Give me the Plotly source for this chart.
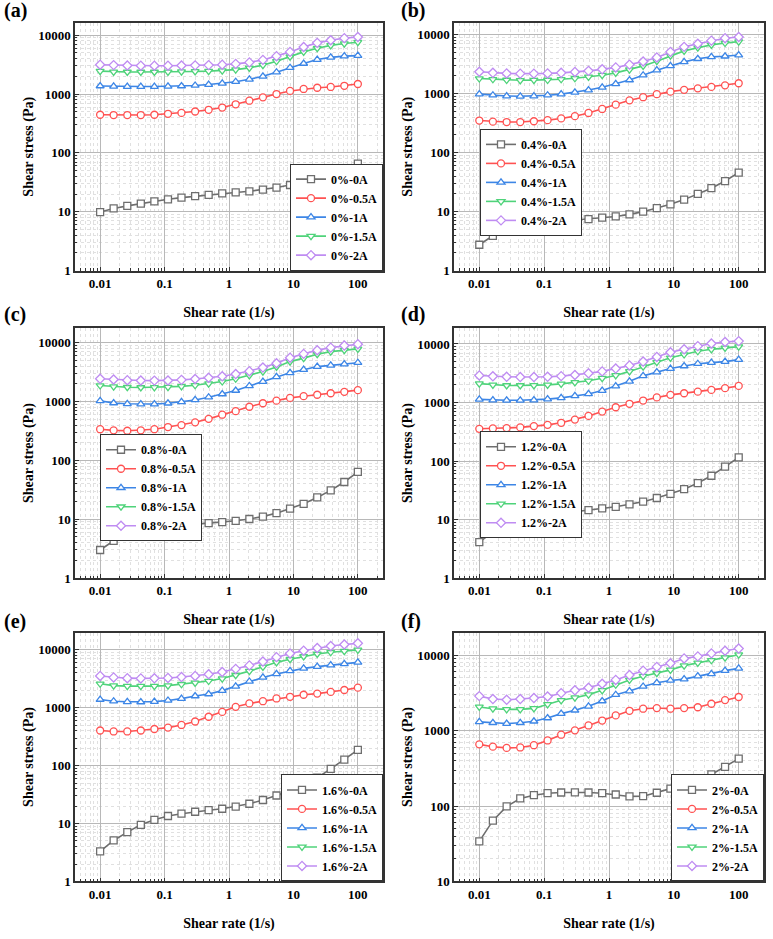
import plotly.graph_objects as go

# ---------------- data ----------------
shear_rate = [0.01, 0.0162, 0.0264, 0.0428, 0.0695, 0.113, 0.183, 0.298, 0.483, 0.785,
              1.27, 2.07, 3.36, 5.46, 8.86, 14.4, 23.4, 37.9, 61.6, 100]

currents = ["0A", "0.5A", "1A", "1.5A", "2A"]
concentrations = ["0%", "0.4%", "0.8%", "1.2%", "1.6%", "2%"]
panel_tags = ["(a)", "(b)", "(c)", "(d)", "(e)", "(f)"]

x_tick_vals = [0.01, 0.1, 1, 10, 100]
x_tick_text = ["0.01", "0.1", "1", "10", "100"]
y_tick_vals = [1, 10, 100, 1000, 10000]
y_tick_text = ["1", "10", "100", "1000", "10000"]

# (a) 0 %
a_0A = [9.9, 11.4, 12.6, 13.8, 15.0, 16.3, 17.4, 18.4, 19.4, 20.5, 21.3, 22.3, 23.8, 25.8, 28.5, 32.5, 38, 45, 54, 66]
a_05A = [445, 440, 440, 440, 445, 462, 478, 505, 540, 590, 670, 770, 880, 1000, 1130, 1220, 1280, 1320, 1380, 1480]
a_1A = [1370, 1350, 1340, 1340, 1340, 1350, 1370, 1400, 1450, 1520, 1620, 1780, 2000, 2350, 2800, 3300, 3850, 4200, 4400, 4500]
a_15A = [2450, 2380, 2370, 2370, 2370, 2380, 2400, 2420, 2450, 2500, 2600, 2780, 3100, 3600, 4300, 5200, 6000, 6700, 7200, 7600]
a_2A = [3150, 3100, 3050, 3030, 3030, 3030, 3050, 3070, 3100, 3150, 3250, 3450, 3800, 4400, 5200, 6300, 7400, 8200, 8900, 9300]

# (b) 0.4 %
b_0A = [2.75, 3.9, 4.6, 5.3, 5.8, 6.3, 6.8, 7.2, 7.5, 7.9, 8.3, 9.0, 10, 11.5, 13.3, 16, 20, 25, 33, 46]
b_05A = [350, 335, 330, 330, 340, 355, 380, 415, 470, 550, 650, 770, 870, 980, 1080, 1160, 1230, 1300, 1380, 1500]
b_1A = [980, 940, 910, 900, 910, 940, 980, 1050, 1150, 1280, 1460, 1700, 2050, 2500, 2950, 3450, 3900, 4200, 4300, 4500]
b_15A = [1800, 1750, 1700, 1680, 1690, 1700, 1750, 1820, 1920, 2050, 2250, 2550, 2950, 3550, 4400, 5300, 6000, 6700, 7200, 7600]
b_2A = [2350, 2250, 2200, 2180, 2180, 2200, 2250, 2330, 2430, 2580, 2780, 3100, 3500, 4100, 5100, 6200, 7000, 7900, 8700, 9100]

# (c) 0.8 %
c_0A = [3.0, 4.3, 5.3, 6.0, 6.6, 7.2, 7.8, 8.3, 8.6, 8.9, 9.4, 10.1, 11.1, 12.7, 15.2, 18.3, 23.5, 31, 43, 64]
c_05A = [340, 325, 320, 325, 340, 370, 400, 445, 510, 600, 690, 820, 940, 1040, 1160, 1240, 1310, 1390, 1470, 1570]
c_1A = [1030, 950, 920, 910, 910, 940, 990, 1070, 1190, 1350, 1550, 1850, 2200, 2650, 3100, 3500, 3950, 4150, 4350, 4600]
c_15A = [1880, 1800, 1760, 1740, 1750, 1770, 1820, 1900, 2030, 2200, 2450, 2800, 3250, 3900, 4800, 5500, 6400, 7100, 7500, 7900]
c_2A = [2450, 2380, 2320, 2290, 2280, 2290, 2350, 2430, 2550, 2700, 2950, 3300, 3800, 4500, 5600, 6500, 7500, 8300, 9000, 9500]

# (d) 1.2 %
d_0A = [4.1, 6.1, 8.0, 9.6, 10.8, 11.9, 12.8, 13.6, 14.5, 15.5, 16.5, 18.2, 20.2, 23.3, 27.5, 33, 42, 56, 80, 115]
d_05A = [355, 360, 365, 375, 395, 415, 450, 510, 590, 700, 830, 950, 1080, 1220, 1350, 1440, 1530, 1640, 1760, 1920]
d_1A = [1130, 1100, 1090, 1090, 1100, 1140, 1200, 1300, 1400, 1600, 1900, 2300, 2850, 3300, 3800, 4200, 4600, 4800, 5000, 5400]
d_15A = [2100, 2000, 1950, 1950, 1960, 2000, 2080, 2200, 2350, 2600, 2900, 3400, 4100, 4900, 5800, 6600, 7500, 8100, 8600, 9000]
d_2A = [2900, 2800, 2750, 2720, 2720, 2750, 2820, 2950, 3150, 3400, 3800, 4300, 5000, 6000, 7200, 8100, 9200, 10200, 10800, 11200]

# (e) 1.6 %
e_0A = [3.3, 5.1, 7.1, 9.5, 11.6, 13.5, 14.8, 16, 17, 18, 19.6, 22, 25.5, 30.5, 37, 47, 62, 88, 127, 188]
e_05A = [405, 390, 390, 405, 430, 455, 505, 580, 700, 850, 1040, 1190, 1300, 1450, 1550, 1680, 1760, 1880, 2030, 2230]
e_1A = [1390, 1300, 1270, 1260, 1280, 1340, 1440, 1600, 1730, 1980, 2350, 2850, 3350, 3850, 4350, 4800, 5150, 5450, 5750, 6100]
e_15A = [2600, 2420, 2370, 2360, 2370, 2420, 2550, 2700, 2900, 3200, 3650, 4300, 5100, 6100, 6900, 7700, 8500, 9100, 9500, 10000]
e_2A = [3550, 3350, 3250, 3220, 3230, 3280, 3400, 3550, 3800, 4150, 4700, 5400, 6300, 7500, 8700, 9700, 10800, 11700, 12400, 13000]

# (f) 2 %
f_0A = [34, 64, 99, 126, 139, 148, 151, 152, 151, 148, 142, 134, 135, 150, 170, 158, 213, 262, 330, 425]
f_05A = [657, 612, 590, 598, 640, 740, 882, 1008, 1170, 1360, 1590, 1830, 1950, 1990, 1950, 1990, 2040, 2270, 2540, 2790]
f_1A = [1305, 1270, 1240, 1270, 1330, 1470, 1680, 1860, 2100, 2470, 2990, 3340, 3850, 4300, 4620, 4810, 5270, 5650, 6240, 6690]
f_15A = [2060, 1950, 1910, 1910, 1970, 2230, 2520, 2730, 3000, 3420, 4050, 4700, 5270, 5760, 6380, 7270, 7890, 8560, 9270, 10160]
f_2A = [2866, 2620, 2560, 2620, 2700, 2830, 3140, 3420, 3700, 4180, 4700, 5450, 6240, 6990, 7800, 9060, 9640, 10560, 11440, 12250]

panel_series = [
    [a_0A, a_05A, a_1A, a_15A, a_2A],
    [b_0A, b_05A, b_1A, b_15A, b_2A],
    [c_0A, c_05A, c_1A, c_15A, c_2A],
    [d_0A, d_05A, d_1A, d_15A, d_2A],
    [e_0A, e_05A, e_1A, e_15A, e_2A],
    [f_0A, f_05A, f_1A, f_15A, f_2A],
]

# ---------------- styling ----------------
W, H = 773, 939
colors = ["#6e6e6e", "#ff5252", "#3d86e6", "#4fd37a", "#bf8cf2"]
symbols = ["square", "circle", "triangle-up", "triangle-down", "diamond"]
FONT = "Liberation Serif"
AX = "#333333"

# minor tick positions (2..9 within each decade) for log axes
minor_vals = [m * 10.0 ** e for e in range(-3, 5) for m in range(2, 10)]

# plot areas in pixels: (left, right, top, bottom)
col_px = [(75, 383), (454, 764)]
row_px = [(23, 273), (331, 583), (638, 889)]
y_ranges = [[0, 4.21], [0, 4.2], [0, 4.25], [0, 4.27], [0, 4.3], [1, 4.3]]
x_range = [-2.39, 2.39]

# legend positions (x px, y px, xanchor, yanchor)
legend_pos = [
    (383, 273, "right", "bottom"),
    (480, 130, "left", "top"),
    (100, 438, "left", "top"),
    (480, 435, "left", "top"),
    (383, 889, "right", "bottom"),
    (764, 889, "right", "bottom"),
]

fig = go.Figure()
layout = dict(
    width=W, height=H,
    margin=dict(l=0, r=0, t=0, b=0),
    paper_bgcolor="white", plot_bgcolor="white",
    font=dict(family=FONT, size=13, color="black"),
    showlegend=True,
)
annotations = []

for i in range(6):
    r, c = divmod(i, 2)
    l, rr = col_px[c]
    t, b = row_px[r]
    xname = "x" if i == 0 else f"x{i+1}"
    yname = "y" if i == 0 else f"y{i+1}"
    xkey = "xaxis" if i == 0 else f"xaxis{i+1}"
    ykey = "yaxis" if i == 0 else f"yaxis{i+1}"
    lkey = "legend" if i == 0 else f"legend{i+1}"

    for j in range(5):
        fig.add_trace(go.Scatter(
            x=shear_rate, y=panel_series[i][j],
            mode="lines+markers",
            name=f"<b>{concentrations[i]}-{currents[j]}</b>",
            line=dict(color=colors[j], width=1.6),
            marker=dict(symbol=symbols[j], size=7, color="white",
                        line=dict(color=colors[j], width=1.3)),
            xaxis=xname, yaxis=yname, legend=lkey,
        ))

    axis_common = dict(
        type="log",
        showline=True, mirror=True, linecolor=AX, linewidth=1.5,
        ticks="inside", ticklen=4, tickwidth=1, tickcolor=AX,
        showgrid=True, gridcolor="#b8b8b8", gridwidth=1,
        zeroline=False,
        tickfont=dict(family=FONT, size=13, color="black", weight="bold"),
        minor=dict(tickmode="array", tickvals=minor_vals,
                   ticks="inside", ticklen=2.5, tickcolor=AX, showgrid=True,
                   gridcolor="#e0e0e0", griddash="dot", gridwidth=1),
    )
    layout[xkey] = dict(
        axis_common,
        domain=[l / W, rr / W], anchor=yname, range=x_range,
        tickmode="array", tickvals=x_tick_vals, ticktext=x_tick_text,
        title=dict(text="<b>Shear rate (1/s)</b>", font=dict(family=FONT, size=14), standoff=17),
    )
    layout[ykey] = dict(
        axis_common,
        domain=[1 - b / H, 1 - t / H], anchor=xname, range=y_ranges[i],
        tickmode="array", tickvals=y_tick_vals, ticktext=y_tick_text,
        title=dict(text="<b>Shear stress (Pa)</b>", font=dict(family=FONT, size=14), standoff=1),
    )
    lx, ly, xa, ya = legend_pos[i]
    layout[lkey] = dict(
        x=lx / W, y=1 - ly / H, xanchor=xa, yanchor=ya,
        bgcolor="white", bordercolor=AX, borderwidth=1,
        font=dict(family=FONT, size=12, color="black"),
        itemwidth=30, tracegroupgap=0,
    )
    annotations.append(dict(
        text=f"<b>{panel_tags[i]}</b>", xref="paper", yref="paper",
        x=(2 if c == 0 else 399) / W, y=1 - ([11, 317, 627][r]) / H,
        xanchor="left", yanchor="middle", showarrow=False,
        font=dict(family=FONT, size=20, color="black"),
    ))

layout["annotations"] = annotations
fig.update_layout(**layout)
fig.write_html("out.html")
